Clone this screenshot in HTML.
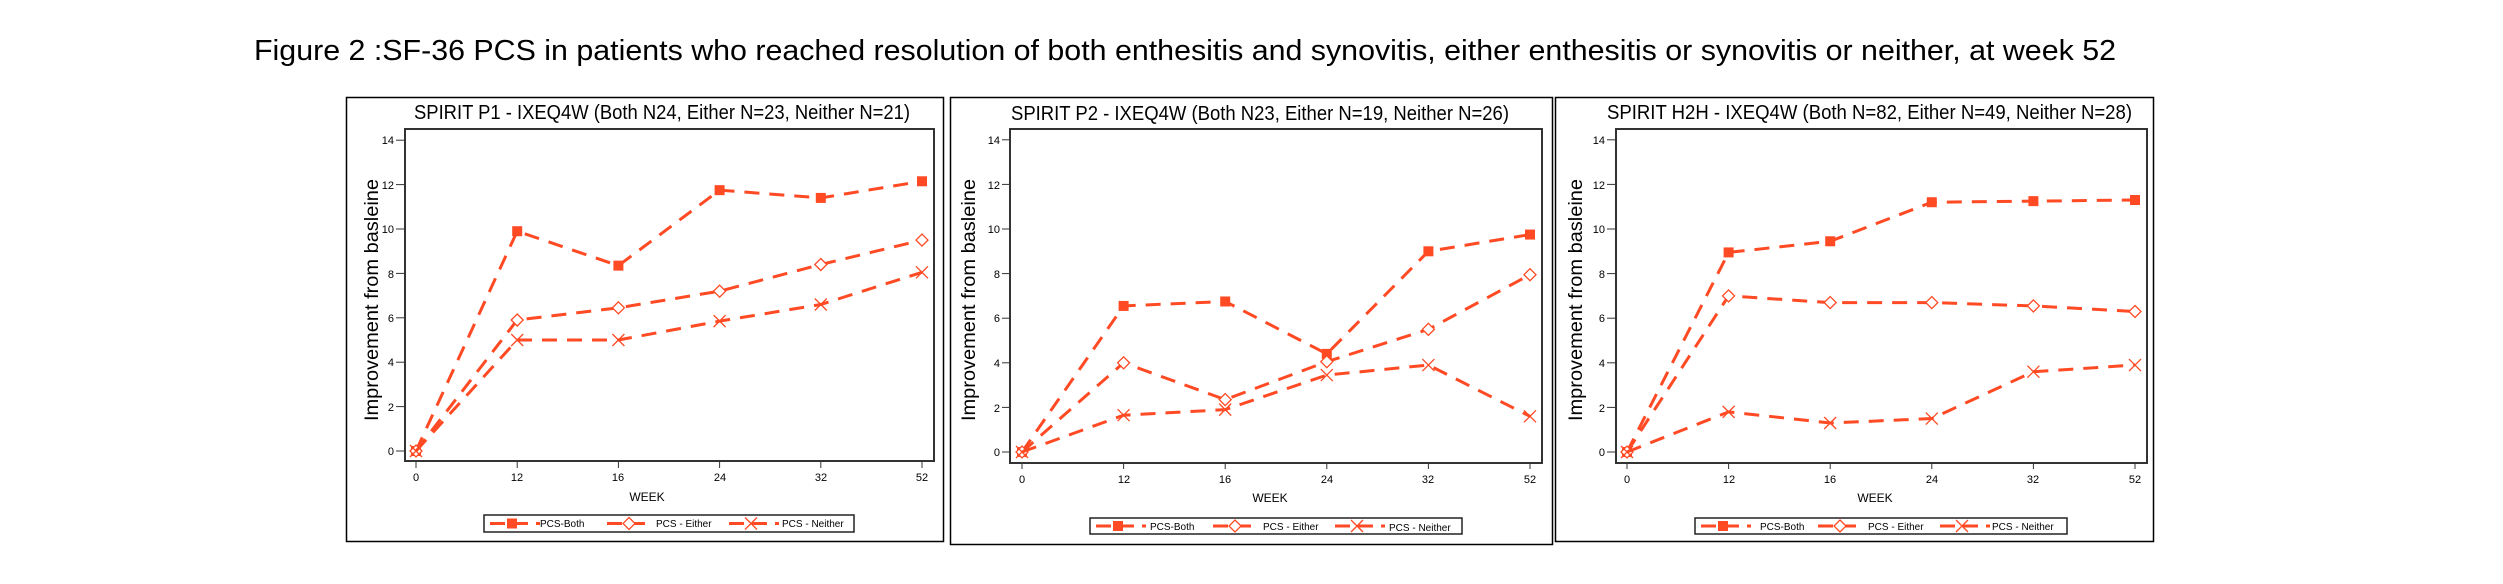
<!DOCTYPE html>
<html><head><meta charset="utf-8"><style>
html,body{margin:0;padding:0;background:#fff;}
svg{display:block;}
text{font-family:"Liberation Sans",sans-serif;fill:#000;}
</style></head><body>
<svg id="s" width="2503" height="584" viewBox="0 0 2503 584" xmlns="http://www.w3.org/2000/svg">
<rect width="2503" height="584" fill="#fff"/>
<text x="254" y="60" font-size="29" textLength="1862" lengthAdjust="spacingAndGlyphs">Figure 2 :SF-36 PCS in patients who reached resolution of both enthesitis and synovitis, either enthesitis or synovitis or neither, at week 52</text>

<!-- panel frames -->
<rect x="346.5" y="97.5" width="597" height="444" fill="none" stroke="#000" stroke-width="1.5"/>
<rect x="950.5" y="97.5" width="602" height="447" fill="none" stroke="#000" stroke-width="1.5"/>
<rect x="1555.5" y="97.5" width="598" height="444" fill="none" stroke="#000" stroke-width="1.5"/>

<!-- plot areas -->
<rect x="405" y="129" width="529" height="332" fill="none" stroke="#333" stroke-width="2"/>
<rect x="1010" y="129" width="532" height="334" fill="none" stroke="#333" stroke-width="2"/>
<rect x="1616" y="129" width="531" height="334" fill="none" stroke="#333" stroke-width="2"/>

<!-- titles -->
<text x="414" y="119" font-size="20" textLength="496" lengthAdjust="spacingAndGlyphs">SPIRIT P1 - IXEQ4W (Both N24, Either N=23, Neither N=21)</text>
<text x="1011" y="120" font-size="20" textLength="498" lengthAdjust="spacingAndGlyphs">SPIRIT P2 - IXEQ4W (Both N23, Either N=19, Neither N=26)</text>
<text x="1607" y="119" font-size="20" textLength="525" lengthAdjust="spacingAndGlyphs">SPIRIT H2H - IXEQ4W (Both N=82, Either N=49, Neither N=28)</text>

<!-- y labels -->
<text transform="translate(378,300) rotate(-90)" text-anchor="middle" font-size="19" textLength="242" lengthAdjust="spacingAndGlyphs">Improvement from basleine</text>
<text transform="translate(975,300) rotate(-90)" text-anchor="middle" font-size="19" textLength="242" lengthAdjust="spacingAndGlyphs">Improvement from basleine</text>
<text transform="translate(1582,300) rotate(-90)" text-anchor="middle" font-size="19" textLength="242" lengthAdjust="spacingAndGlyphs">Improvement from basleine</text>

<g font-size="11" text-anchor="end">
<text x="394" y="455">0</text><text x="394" y="411">2</text><text x="394" y="366">4</text><text x="394" y="322">6</text><text x="394" y="278">8</text><text x="394" y="233">10</text><text x="394" y="189">12</text><text x="394" y="144">14</text>
<text x="1000" y="456">0</text><text x="1000" y="412">2</text><text x="1000" y="367">4</text><text x="1000" y="322">6</text><text x="1000" y="278">8</text><text x="1000" y="233">10</text><text x="1000" y="189">12</text><text x="1000" y="144">14</text>
<text x="1605" y="456">0</text><text x="1605" y="412">2</text><text x="1605" y="367">4</text><text x="1605" y="322">6</text><text x="1605" y="278">8</text><text x="1605" y="233">10</text><text x="1605" y="189">12</text><text x="1605" y="144">14</text>
</g>
<g font-size="11" text-anchor="middle">
<text x="416" y="481">0</text><text x="517" y="481">12</text><text x="618" y="481">16</text><text x="720" y="481">24</text><text x="821" y="481">32</text><text x="922" y="481">52</text>
<text x="1022" y="483">0</text><text x="1124" y="483">12</text><text x="1225" y="483">16</text><text x="1327" y="483">24</text><text x="1428" y="483">32</text><text x="1530" y="483">52</text>
<text x="1627" y="483">0</text><text x="1729" y="483">12</text><text x="1830" y="483">16</text><text x="1932" y="483">24</text><text x="2033" y="483">32</text><text x="2135" y="483">52</text>
</g>
<g font-size="12" text-anchor="middle">
<text x="647" y="501">WEEK</text>
<text x="1270" y="502">WEEK</text>
<text x="1875" y="502">WEEK</text>
</g>

<!-- legends -->
<rect x="484" y="515" width="370" height="17" fill="none" stroke="#222" stroke-width="1.5"/>
<rect x="1090" y="518" width="372" height="16" fill="none" stroke="#222" stroke-width="1.5"/>
<rect x="1695" y="518" width="372" height="16" fill="none" stroke="#222" stroke-width="1.5"/>
<g font-size="10">
<text x="540" y="527">PCS-Both</text><text x="656" y="527">PCS - Either</text><text x="782" y="527">PCS - Neither</text>
<text x="1150" y="530">PCS-Both</text><text x="1263" y="530">PCS - Either</text><text x="1389" y="531">PCS - Neither</text>
<text x="1760" y="530">PCS-Both</text><text x="1868" y="530">PCS - Either</text><text x="1992" y="530">PCS - Neither</text>
</g>
<g id="dyn"></g>
</svg>
<script>
var NS="http://www.w3.org/2000/svg",g=document.getElementById("dyn"),C="#ff4a24";
function el(n,a){var e=document.createElementNS(NS,n);for(var k in a)e.setAttribute(k,a[k]);g.appendChild(e);return e;}
function marker(t,x,y){
 if(t==0)el("rect",{x:x-5,y:y-5,width:10,height:10,fill:C});
 else if(t==1)el("path",{d:"M"+x+" "+(y-6)+"L"+(x+6)+" "+y+"L"+x+" "+(y+6)+"L"+(x-6)+" "+y+"Z",fill:"#fff",stroke:C,"stroke-width":1.3});
 else el("path",{d:"M"+(x-6)+" "+(y-6)+"L"+(x+6)+" "+(y+6)+"M"+(x+6)+" "+(y-6)+"L"+(x-6)+" "+(y+6),fill:"none",stroke:C,"stroke-width":1.3});
}
var P=[
 {x0:416,dx:101.2,y0:451,u:22.2,lx:484,ly:523.5,d:[[0,9.9,8.35,11.75,11.4,12.15],[0,5.9,6.45,7.2,8.4,9.5],[0,5.0,5.0,5.85,6.6,8.05]]},
 {x0:1022,dx:101.6,y0:452,u:22.3,lx:1090,ly:526,d:[[0,6.55,6.75,4.4,9.0,9.75],[0,4.0,2.35,4.05,5.5,7.95],[0,1.65,1.9,3.45,3.9,1.6]]},
 {x0:1627,dx:101.6,y0:452,u:22.3,lx:1695,ly:526,d:[[0,8.95,9.45,11.2,11.25,11.3],[0,7.0,6.7,6.7,6.55,6.3],[0,1.8,1.3,1.5,3.6,3.9]]}
];
var lo=[[6,56,28],[123,168,145],[245,295,267]];
P.forEach(function(p){
 p.d.forEach(function(s,i){
  var pts=s.map(function(v,j){return [p.x0+j*p.dx,p.y0-v*p.u];});
  el("polyline",{points:pts.map(function(q){return q.join(",")}).join(" "),fill:"none",stroke:C,"stroke-width":3,"stroke-dasharray":"15 10"});
  pts.forEach(function(q){marker(i,q[0],q[1]);});
  var L=lo[i];
  el("line",{x1:p.lx+L[0],y1:p.ly,x2:p.lx+L[1],y2:p.ly,stroke:C,"stroke-width":3,"stroke-dasharray":"15 8"});
  marker(i,p.lx+L[2],p.ly);
 });
 [0,2,4,6,8,10,12,14].forEach(function(v){var y=p.y0-v*p.u;el("line",{x1:p.x0-20,y1:y,x2:p.x0-11,y2:y,stroke:"#333","stroke-width":1});});
 for(var j=0;j<6;j++){var x=p.x0+j*p.dx;el("line",{x1:x,y1:p.y0+10,x2:x,y2:p.y0+17,stroke:"#333","stroke-width":1});}
});
</script>
</body></html>
